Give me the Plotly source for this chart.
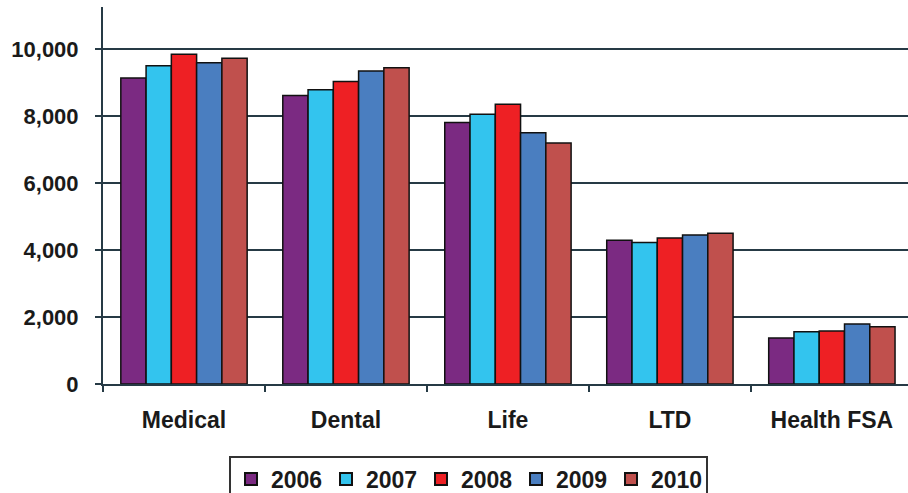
import plotly.graph_objects as go

categories = ["Medical", "Dental", "Life", "LTD", "Health FSA"]
years = ["2006", "2007", "2008", "2009", "2010"]
values_2006 = [9130, 8610, 7800, 4290, 1370]
values_2007 = [9500, 8780, 8050, 4220, 1560]
values_2008 = [9840, 9025, 8350, 4360, 1580]
values_2009 = [9590, 9340, 7500, 4450, 1790]
values_2010 = [9720, 9440, 7190, 4500, 1710]
series = [values_2006, values_2007, values_2008, values_2009, values_2010]
colors = ["#7B2A82", "#33C4EE", "#EE2024", "#4A7EC0", "#C0504D"]
y_ticks = [0, 2000, 4000, 6000, 8000, 10000]
y_tick_labels = ["0", "2,000", "4,000", "6,000", "8,000", "10,000"]

fig = go.Figure()
for name, vals, col in zip(years, series, colors):
    fig.add_trace(go.Bar(
        x=categories, y=vals, name=name,
        marker=dict(color=col, line=dict(color="#111111", width=1.5)),
    ))

axis_col = "#263a45"
fig.update_layout(
    width=908, height=493,
    margin=dict(l=103, r=0, t=7, b=109),
    paper_bgcolor="white", plot_bgcolor="white",
    barmode="group", bargap=0.22, bargroupgap=0,
    font=dict(family="Liberation Sans, Arial, sans-serif", size=22, color="#1a1a1a", weight="bold"),
    xaxis=dict(
        range=[-0.5, 4.47], showgrid=False, showline=True, linecolor=axis_col, linewidth=2,
        ticks="outside", tickson="boundaries", ticklen=6, tickcolor=axis_col, tickwidth=1.5,
        tickfont=dict(size=23), ticklabelstandoff=14,
    ),
    yaxis=dict(
        range=[0, 11250], tickvals=y_ticks, ticktext=y_tick_labels,
        showgrid=True, gridcolor=axis_col, gridwidth=2,
        zeroline=False, showline=True, linecolor=axis_col, linewidth=2,
        ticks="outside", ticklen=6, tickcolor=axis_col, tickwidth=1.5,
        tickfont=dict(size=22), ticklabelstandoff=12,
    ),
    legend=dict(
        orientation="h", xref="container", yref="container",
        x=0.2522, y=0.076, xanchor="left", yanchor="top",
        bordercolor="#333333", borderwidth=2, bgcolor="white",
        font=dict(size=23), entrywidth=50, entrywidthmode="pixels",
        tracegroupgap=0, itemsizing="constant",
    ),
    showlegend=True,
)

fig.write_html("out.html")
